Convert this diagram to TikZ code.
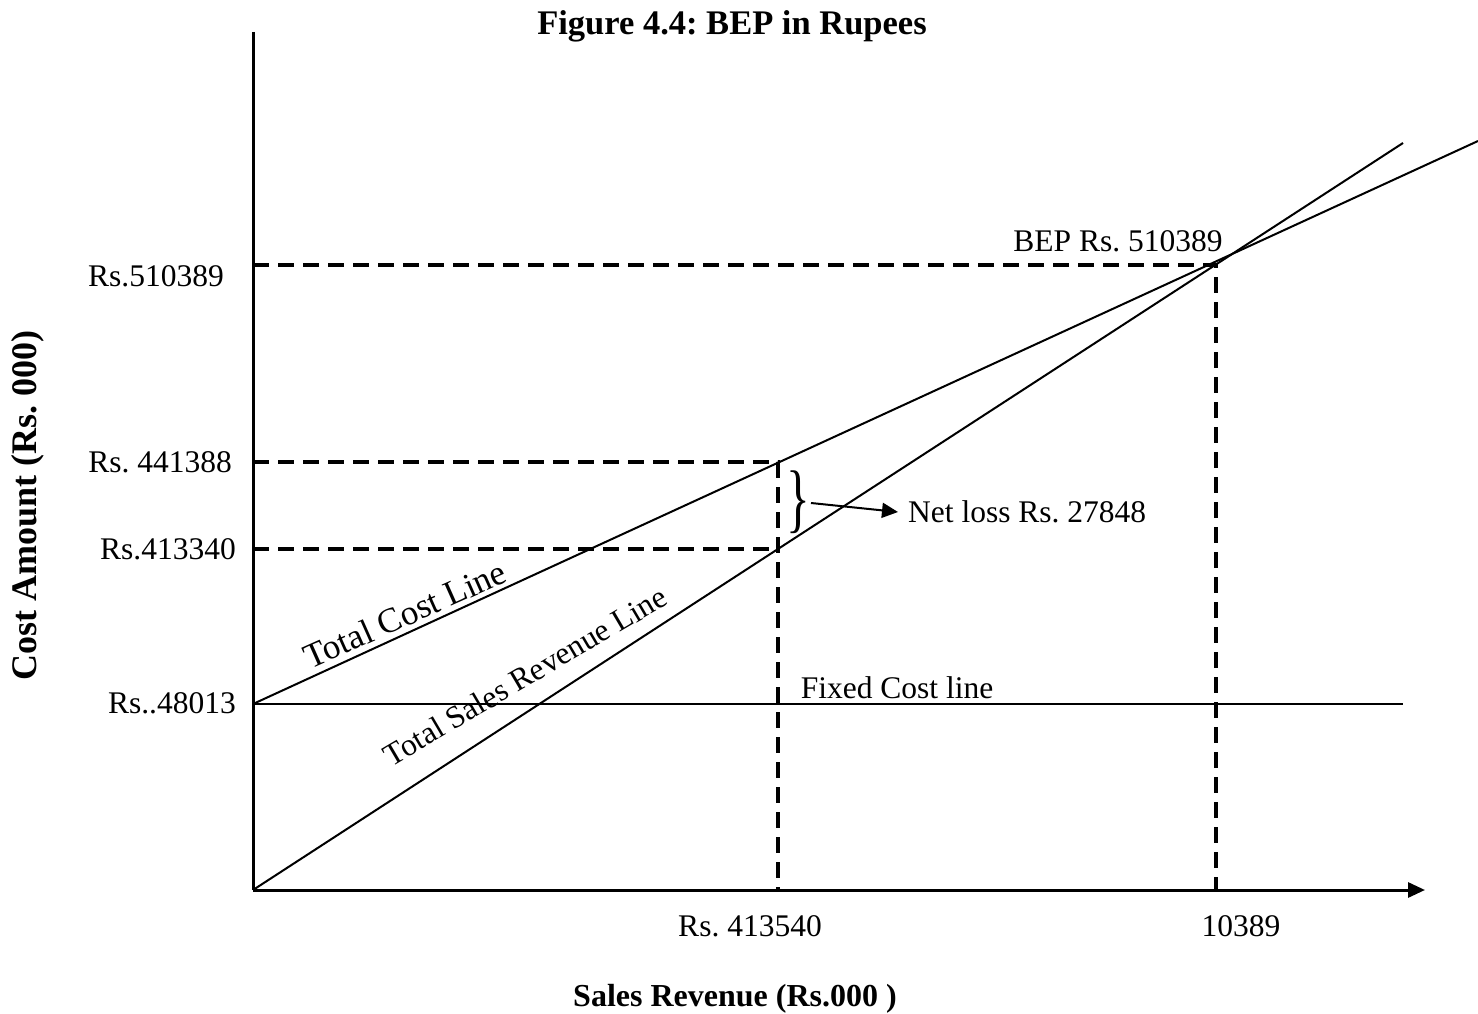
\documentclass[tikz,border=0pt]{standalone}
\usepackage{fontspec}
\setmainfont{Liberation Serif}
\usetikzlibrary{arrows.meta}
\begin{document}
\frenchspacing
\begin{tikzpicture}[x=1pt,y=-1pt,
  lbl/.style={font=\fontsize{31.5}{36}\selectfont, inner sep=0pt},
  blbl/.style={font=\fontsize{32}{36}\selectfont\bfseries, inner sep=0pt},
  axisline/.style={line width=3pt},
  plotline/.style={line width=2pt},
  guide/.style={line width=3.5pt, dash pattern=on 16pt off 9pt}]
\useasboundingbox (0,0) rectangle (1478,1014);
% coordinates
\coordinate (O) at (253,890);
\coordinate (Ytop) at (253,32);
\coordinate (Xend) at (1425,890);
\coordinate (F0) at (253,704);
\coordinate (Fend) at (1403,704);
\coordinate (TCend) at (1478,141);
\coordinate (SRend) at (1403,143);
\coordinate (BEP) at (1216,265);
\coordinate (BEPy) at (253,265);
\coordinate (BEPx) at (1216,890);
\coordinate (A) at (778,462);
\coordinate (Ay) at (253,462);
\coordinate (B) at (778,549);
\coordinate (By) at (253,549);
\coordinate (Ax) at (778,890);
% dashed guides
\draw[guide] (BEPy) -- (BEP) -- (BEPx);
\draw[guide] (Ay) -- (A) -- (Ax);
\draw[guide] (By) -- (B);
% lines
\draw[plotline] (F0) -- (Fend);
\draw[plotline] (F0) -- (TCend);
\draw[plotline] (O) -- (SRend);
% axes
\draw[axisline] (Ytop) -- (O);
\draw[axisline, -{Triangle[length=17pt,width=15pt]}] (O) -- (Xend);
% title
\node[blbl, font=\fontsize{34.5}{40}\selectfont\bfseries] (title) at (732,26) {Figure 4.4: BEP in Rupees};
% y labels
\node[lbl, anchor=east] (y1) at (224,276) {Rs.510389};
\node[lbl, anchor=east] (y2) at (232,462) {Rs. 441388};
\node[lbl, anchor=east] (y3) at (236,549) {Rs.413340};
\node[lbl, anchor=east] (y4) at (236,703) {Rs..48013};
% x labels
\node[lbl] (x1) at (750,926) {Rs. 413540};
\node[lbl] (x2) at (1241,926) {10389};
% axis titles
\node[blbl] (xt) at (735,999) {Sales Revenue (Rs.000 )};
\node[blbl, font=\fontsize{36}{40}\selectfont\bfseries, rotate=90] (yt) at (28,505) {Cost Amount (Rs. 000)};
% other labels
\node[lbl] (bep) at (1118,241) {BEP Rs. 510389};
\node[lbl] (fc) at (897,688) {Fixed Cost line};
\node[lbl, font=\fontsize{35}{40}\selectfont, rotate=24] (tcl) at (405,614) {Total Cost Line};
\node[lbl, rotate=30.5] (srl) at (525,676) {Total Sales Revenue Line};
% brace and net loss
\node[inner sep=0pt] (brace) at (798,502) {\scalebox{0.65}[1]{\fontsize{76}{76}\selectfont\}}};
\node[lbl, anchor=west] (nl) at (908,512) {Net loss Rs. 27848};
\coordinate (bs) at (811,503);
\draw[line width=2pt, -{Triangle[length=16pt,width=15pt]}] (bs) -- ([xshift=-10pt]nl.west);
\end{tikzpicture}
\end{document}
